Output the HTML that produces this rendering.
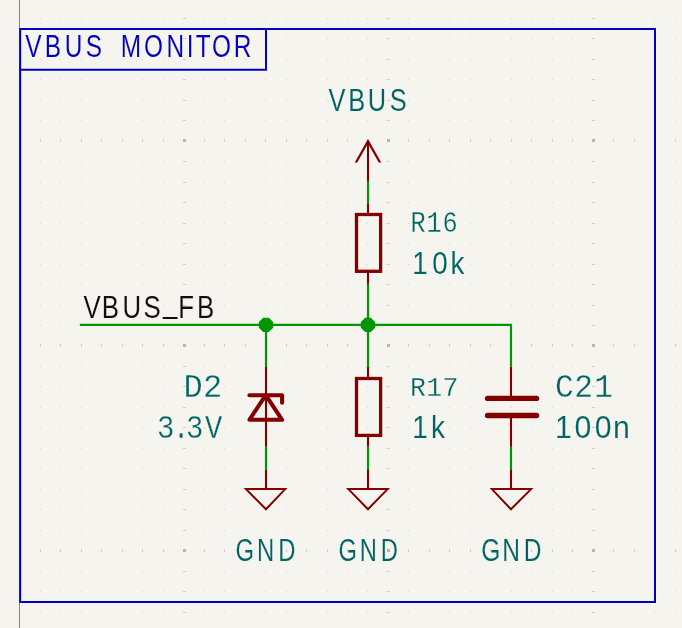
<!DOCTYPE html>
<html lang="en"><head><meta charset="utf-8"><title>VBUS MONITOR</title>
<style>
html,body{margin:0;padding:0;background:#F5F4EF;}
body{width:682px;height:628px;overflow:hidden;}
svg{display:block;will-change:transform;}
text{font-family:"Liberation Sans",sans-serif;white-space:pre;stroke:#F5F4EF;stroke-width:0.1px;}
text.m{font-family:"Liberation Mono",monospace;stroke-width:0.3px;}
</style></head>
<body>
<svg width="682" height="628" viewBox="0 0 682 628">
<rect width="682" height="628" fill="#F5F4EF"/>
<path fill="#D3D3D0" shape-rendering="crispEdges" d="M19 18h1v1h-1zM19 38h1v1h-1zM19 59h1v1h-1zM19 79h1v1h-1zM19 100h1v1h-1zM19 120h1v1h-1zM19 161h1v1h-1zM19 182h1v1h-1zM19 202h1v1h-1zM19 223h1v1h-1zM19 243h1v1h-1zM19 264h1v1h-1zM19 284h1v1h-1zM19 305h1v1h-1zM19 325h1v1h-1zM19 366h1v1h-1zM19 386h1v1h-1zM19 407h1v1h-1zM19 427h1v1h-1zM19 448h1v1h-1zM19 468h1v1h-1zM19 489h1v1h-1zM19 509h1v1h-1zM19 530h1v1h-1zM19 571h1v1h-1zM19 591h1v1h-1zM19 612h1v1h-1zM40 18h1v1h-1zM40 38h1v1h-1zM40 59h1v1h-1zM40 79h1v1h-1zM40 100h1v1h-1zM40 120h1v1h-1zM40 161h1v1h-1zM40 182h1v1h-1zM40 202h1v1h-1zM40 223h1v1h-1zM40 243h1v1h-1zM40 264h1v1h-1zM40 284h1v1h-1zM40 305h1v1h-1zM40 325h1v1h-1zM40 366h1v1h-1zM40 386h1v1h-1zM40 407h1v1h-1zM40 427h1v1h-1zM40 448h1v1h-1zM40 468h1v1h-1zM40 489h1v1h-1zM40 509h1v1h-1zM40 530h1v1h-1zM40 571h1v1h-1zM40 591h1v1h-1zM40 612h1v1h-1zM60 18h1v1h-1zM60 38h1v1h-1zM60 59h1v1h-1zM60 79h1v1h-1zM60 100h1v1h-1zM60 120h1v1h-1zM60 161h1v1h-1zM60 182h1v1h-1zM60 202h1v1h-1zM60 223h1v1h-1zM60 243h1v1h-1zM60 264h1v1h-1zM60 284h1v1h-1zM60 305h1v1h-1zM60 325h1v1h-1zM60 366h1v1h-1zM60 386h1v1h-1zM60 407h1v1h-1zM60 427h1v1h-1zM60 448h1v1h-1zM60 468h1v1h-1zM60 489h1v1h-1zM60 509h1v1h-1zM60 530h1v1h-1zM60 571h1v1h-1zM60 591h1v1h-1zM60 612h1v1h-1zM81 18h1v1h-1zM81 38h1v1h-1zM81 59h1v1h-1zM81 79h1v1h-1zM81 100h1v1h-1zM81 120h1v1h-1zM81 161h1v1h-1zM81 182h1v1h-1zM81 202h1v1h-1zM81 223h1v1h-1zM81 243h1v1h-1zM81 264h1v1h-1zM81 284h1v1h-1zM81 305h1v1h-1zM81 325h1v1h-1zM81 366h1v1h-1zM81 386h1v1h-1zM81 407h1v1h-1zM81 427h1v1h-1zM81 448h1v1h-1zM81 468h1v1h-1zM81 489h1v1h-1zM81 509h1v1h-1zM81 530h1v1h-1zM81 571h1v1h-1zM81 591h1v1h-1zM81 612h1v1h-1zM101 18h1v1h-1zM101 38h1v1h-1zM101 59h1v1h-1zM101 79h1v1h-1zM101 100h1v1h-1zM101 120h1v1h-1zM101 161h1v1h-1zM101 182h1v1h-1zM101 202h1v1h-1zM101 223h1v1h-1zM101 243h1v1h-1zM101 264h1v1h-1zM101 284h1v1h-1zM101 305h1v1h-1zM101 325h1v1h-1zM101 366h1v1h-1zM101 386h1v1h-1zM101 407h1v1h-1zM101 427h1v1h-1zM101 448h1v1h-1zM101 468h1v1h-1zM101 489h1v1h-1zM101 509h1v1h-1zM101 530h1v1h-1zM101 571h1v1h-1zM101 591h1v1h-1zM101 612h1v1h-1zM122 18h1v1h-1zM122 38h1v1h-1zM122 59h1v1h-1zM122 79h1v1h-1zM122 100h1v1h-1zM122 120h1v1h-1zM122 161h1v1h-1zM122 182h1v1h-1zM122 202h1v1h-1zM122 223h1v1h-1zM122 243h1v1h-1zM122 264h1v1h-1zM122 284h1v1h-1zM122 305h1v1h-1zM122 325h1v1h-1zM122 366h1v1h-1zM122 386h1v1h-1zM122 407h1v1h-1zM122 427h1v1h-1zM122 448h1v1h-1zM122 468h1v1h-1zM122 489h1v1h-1zM122 509h1v1h-1zM122 530h1v1h-1zM122 571h1v1h-1zM122 591h1v1h-1zM122 612h1v1h-1zM142 18h1v1h-1zM142 38h1v1h-1zM142 59h1v1h-1zM142 79h1v1h-1zM142 100h1v1h-1zM142 120h1v1h-1zM142 161h1v1h-1zM142 182h1v1h-1zM142 202h1v1h-1zM142 223h1v1h-1zM142 243h1v1h-1zM142 264h1v1h-1zM142 284h1v1h-1zM142 305h1v1h-1zM142 325h1v1h-1zM142 366h1v1h-1zM142 386h1v1h-1zM142 407h1v1h-1zM142 427h1v1h-1zM142 448h1v1h-1zM142 468h1v1h-1zM142 489h1v1h-1zM142 509h1v1h-1zM142 530h1v1h-1zM142 571h1v1h-1zM142 591h1v1h-1zM142 612h1v1h-1zM163 18h1v1h-1zM163 38h1v1h-1zM163 59h1v1h-1zM163 79h1v1h-1zM163 100h1v1h-1zM163 120h1v1h-1zM163 161h1v1h-1zM163 182h1v1h-1zM163 202h1v1h-1zM163 223h1v1h-1zM163 243h1v1h-1zM163 264h1v1h-1zM163 284h1v1h-1zM163 305h1v1h-1zM163 325h1v1h-1zM163 366h1v1h-1zM163 386h1v1h-1zM163 407h1v1h-1zM163 427h1v1h-1zM163 448h1v1h-1zM163 468h1v1h-1zM163 489h1v1h-1zM163 509h1v1h-1zM163 530h1v1h-1zM163 571h1v1h-1zM163 591h1v1h-1zM163 612h1v1h-1zM204 18h1v1h-1zM204 38h1v1h-1zM204 59h1v1h-1zM204 79h1v1h-1zM204 100h1v1h-1zM204 120h1v1h-1zM204 161h1v1h-1zM204 182h1v1h-1zM204 202h1v1h-1zM204 223h1v1h-1zM204 243h1v1h-1zM204 264h1v1h-1zM204 284h1v1h-1zM204 305h1v1h-1zM204 325h1v1h-1zM204 366h1v1h-1zM204 386h1v1h-1zM204 407h1v1h-1zM204 427h1v1h-1zM204 448h1v1h-1zM204 468h1v1h-1zM204 489h1v1h-1zM204 509h1v1h-1zM204 530h1v1h-1zM204 571h1v1h-1zM204 591h1v1h-1zM204 612h1v1h-1zM224 18h1v1h-1zM224 38h1v1h-1zM224 59h1v1h-1zM224 79h1v1h-1zM224 100h1v1h-1zM224 120h1v1h-1zM224 161h1v1h-1zM224 182h1v1h-1zM224 202h1v1h-1zM224 223h1v1h-1zM224 243h1v1h-1zM224 264h1v1h-1zM224 284h1v1h-1zM224 305h1v1h-1zM224 325h1v1h-1zM224 366h1v1h-1zM224 386h1v1h-1zM224 407h1v1h-1zM224 427h1v1h-1zM224 448h1v1h-1zM224 468h1v1h-1zM224 489h1v1h-1zM224 509h1v1h-1zM224 530h1v1h-1zM224 571h1v1h-1zM224 591h1v1h-1zM224 612h1v1h-1zM245 18h1v1h-1zM245 38h1v1h-1zM245 59h1v1h-1zM245 79h1v1h-1zM245 100h1v1h-1zM245 120h1v1h-1zM245 161h1v1h-1zM245 182h1v1h-1zM245 202h1v1h-1zM245 223h1v1h-1zM245 243h1v1h-1zM245 264h1v1h-1zM245 284h1v1h-1zM245 305h1v1h-1zM245 325h1v1h-1zM245 366h1v1h-1zM245 386h1v1h-1zM245 407h1v1h-1zM245 427h1v1h-1zM245 448h1v1h-1zM245 468h1v1h-1zM245 489h1v1h-1zM245 509h1v1h-1zM245 530h1v1h-1zM245 571h1v1h-1zM245 591h1v1h-1zM245 612h1v1h-1zM265 18h1v1h-1zM265 38h1v1h-1zM265 59h1v1h-1zM265 79h1v1h-1zM265 100h1v1h-1zM265 120h1v1h-1zM265 161h1v1h-1zM265 182h1v1h-1zM265 202h1v1h-1zM265 223h1v1h-1zM265 243h1v1h-1zM265 264h1v1h-1zM265 284h1v1h-1zM265 305h1v1h-1zM265 325h1v1h-1zM265 366h1v1h-1zM265 386h1v1h-1zM265 407h1v1h-1zM265 427h1v1h-1zM265 448h1v1h-1zM265 468h1v1h-1zM265 489h1v1h-1zM265 509h1v1h-1zM265 530h1v1h-1zM265 571h1v1h-1zM265 591h1v1h-1zM265 612h1v1h-1zM286 18h1v1h-1zM286 38h1v1h-1zM286 59h1v1h-1zM286 79h1v1h-1zM286 100h1v1h-1zM286 120h1v1h-1zM286 161h1v1h-1zM286 182h1v1h-1zM286 202h1v1h-1zM286 223h1v1h-1zM286 243h1v1h-1zM286 264h1v1h-1zM286 284h1v1h-1zM286 305h1v1h-1zM286 325h1v1h-1zM286 366h1v1h-1zM286 386h1v1h-1zM286 407h1v1h-1zM286 427h1v1h-1zM286 448h1v1h-1zM286 468h1v1h-1zM286 489h1v1h-1zM286 509h1v1h-1zM286 530h1v1h-1zM286 571h1v1h-1zM286 591h1v1h-1zM286 612h1v1h-1zM306 18h1v1h-1zM306 38h1v1h-1zM306 59h1v1h-1zM306 79h1v1h-1zM306 100h1v1h-1zM306 120h1v1h-1zM306 161h1v1h-1zM306 182h1v1h-1zM306 202h1v1h-1zM306 223h1v1h-1zM306 243h1v1h-1zM306 264h1v1h-1zM306 284h1v1h-1zM306 305h1v1h-1zM306 325h1v1h-1zM306 366h1v1h-1zM306 386h1v1h-1zM306 407h1v1h-1zM306 427h1v1h-1zM306 448h1v1h-1zM306 468h1v1h-1zM306 489h1v1h-1zM306 509h1v1h-1zM306 530h1v1h-1zM306 571h1v1h-1zM306 591h1v1h-1zM306 612h1v1h-1zM327 18h1v1h-1zM327 38h1v1h-1zM327 59h1v1h-1zM327 79h1v1h-1zM327 100h1v1h-1zM327 120h1v1h-1zM327 161h1v1h-1zM327 182h1v1h-1zM327 202h1v1h-1zM327 223h1v1h-1zM327 243h1v1h-1zM327 264h1v1h-1zM327 284h1v1h-1zM327 305h1v1h-1zM327 325h1v1h-1zM327 366h1v1h-1zM327 386h1v1h-1zM327 407h1v1h-1zM327 427h1v1h-1zM327 448h1v1h-1zM327 468h1v1h-1zM327 489h1v1h-1zM327 509h1v1h-1zM327 530h1v1h-1zM327 571h1v1h-1zM327 591h1v1h-1zM327 612h1v1h-1zM347 18h1v1h-1zM347 38h1v1h-1zM347 59h1v1h-1zM347 79h1v1h-1zM347 100h1v1h-1zM347 120h1v1h-1zM347 161h1v1h-1zM347 182h1v1h-1zM347 202h1v1h-1zM347 223h1v1h-1zM347 243h1v1h-1zM347 264h1v1h-1zM347 284h1v1h-1zM347 305h1v1h-1zM347 325h1v1h-1zM347 366h1v1h-1zM347 386h1v1h-1zM347 407h1v1h-1zM347 427h1v1h-1zM347 448h1v1h-1zM347 468h1v1h-1zM347 489h1v1h-1zM347 509h1v1h-1zM347 530h1v1h-1zM347 571h1v1h-1zM347 591h1v1h-1zM347 612h1v1h-1zM367 18h1v1h-1zM367 38h1v1h-1zM367 59h1v1h-1zM367 79h1v1h-1zM367 100h1v1h-1zM367 120h1v1h-1zM367 161h1v1h-1zM367 182h1v1h-1zM367 202h1v1h-1zM367 223h1v1h-1zM367 243h1v1h-1zM367 264h1v1h-1zM367 284h1v1h-1zM367 305h1v1h-1zM367 325h1v1h-1zM367 366h1v1h-1zM367 386h1v1h-1zM367 407h1v1h-1zM367 427h1v1h-1zM367 448h1v1h-1zM367 468h1v1h-1zM367 489h1v1h-1zM367 509h1v1h-1zM367 530h1v1h-1zM367 571h1v1h-1zM367 591h1v1h-1zM367 612h1v1h-1zM408 18h1v1h-1zM408 38h1v1h-1zM408 59h1v1h-1zM408 79h1v1h-1zM408 100h1v1h-1zM408 120h1v1h-1zM408 161h1v1h-1zM408 182h1v1h-1zM408 202h1v1h-1zM408 223h1v1h-1zM408 243h1v1h-1zM408 264h1v1h-1zM408 284h1v1h-1zM408 305h1v1h-1zM408 325h1v1h-1zM408 366h1v1h-1zM408 386h1v1h-1zM408 407h1v1h-1zM408 427h1v1h-1zM408 448h1v1h-1zM408 468h1v1h-1zM408 489h1v1h-1zM408 509h1v1h-1zM408 530h1v1h-1zM408 571h1v1h-1zM408 591h1v1h-1zM408 612h1v1h-1zM429 18h1v1h-1zM429 38h1v1h-1zM429 59h1v1h-1zM429 79h1v1h-1zM429 100h1v1h-1zM429 120h1v1h-1zM429 161h1v1h-1zM429 182h1v1h-1zM429 202h1v1h-1zM429 223h1v1h-1zM429 243h1v1h-1zM429 264h1v1h-1zM429 284h1v1h-1zM429 305h1v1h-1zM429 325h1v1h-1zM429 366h1v1h-1zM429 386h1v1h-1zM429 407h1v1h-1zM429 427h1v1h-1zM429 448h1v1h-1zM429 468h1v1h-1zM429 489h1v1h-1zM429 509h1v1h-1zM429 530h1v1h-1zM429 571h1v1h-1zM429 591h1v1h-1zM429 612h1v1h-1zM449 18h1v1h-1zM449 38h1v1h-1zM449 59h1v1h-1zM449 79h1v1h-1zM449 100h1v1h-1zM449 120h1v1h-1zM449 161h1v1h-1zM449 182h1v1h-1zM449 202h1v1h-1zM449 223h1v1h-1zM449 243h1v1h-1zM449 264h1v1h-1zM449 284h1v1h-1zM449 305h1v1h-1zM449 325h1v1h-1zM449 366h1v1h-1zM449 386h1v1h-1zM449 407h1v1h-1zM449 427h1v1h-1zM449 448h1v1h-1zM449 468h1v1h-1zM449 489h1v1h-1zM449 509h1v1h-1zM449 530h1v1h-1zM449 571h1v1h-1zM449 591h1v1h-1zM449 612h1v1h-1zM470 18h1v1h-1zM470 38h1v1h-1zM470 59h1v1h-1zM470 79h1v1h-1zM470 100h1v1h-1zM470 120h1v1h-1zM470 161h1v1h-1zM470 182h1v1h-1zM470 202h1v1h-1zM470 223h1v1h-1zM470 243h1v1h-1zM470 264h1v1h-1zM470 284h1v1h-1zM470 305h1v1h-1zM470 325h1v1h-1zM470 366h1v1h-1zM470 386h1v1h-1zM470 407h1v1h-1zM470 427h1v1h-1zM470 448h1v1h-1zM470 468h1v1h-1zM470 489h1v1h-1zM470 509h1v1h-1zM470 530h1v1h-1zM470 571h1v1h-1zM470 591h1v1h-1zM470 612h1v1h-1zM490 18h1v1h-1zM490 38h1v1h-1zM490 59h1v1h-1zM490 79h1v1h-1zM490 100h1v1h-1zM490 120h1v1h-1zM490 161h1v1h-1zM490 182h1v1h-1zM490 202h1v1h-1zM490 223h1v1h-1zM490 243h1v1h-1zM490 264h1v1h-1zM490 284h1v1h-1zM490 305h1v1h-1zM490 325h1v1h-1zM490 366h1v1h-1zM490 386h1v1h-1zM490 407h1v1h-1zM490 427h1v1h-1zM490 448h1v1h-1zM490 468h1v1h-1zM490 489h1v1h-1zM490 509h1v1h-1zM490 530h1v1h-1zM490 571h1v1h-1zM490 591h1v1h-1zM490 612h1v1h-1zM511 18h1v1h-1zM511 38h1v1h-1zM511 59h1v1h-1zM511 79h1v1h-1zM511 100h1v1h-1zM511 120h1v1h-1zM511 161h1v1h-1zM511 182h1v1h-1zM511 202h1v1h-1zM511 223h1v1h-1zM511 243h1v1h-1zM511 264h1v1h-1zM511 284h1v1h-1zM511 305h1v1h-1zM511 325h1v1h-1zM511 366h1v1h-1zM511 386h1v1h-1zM511 407h1v1h-1zM511 427h1v1h-1zM511 448h1v1h-1zM511 468h1v1h-1zM511 489h1v1h-1zM511 509h1v1h-1zM511 530h1v1h-1zM511 571h1v1h-1zM511 591h1v1h-1zM511 612h1v1h-1zM531 18h1v1h-1zM531 38h1v1h-1zM531 59h1v1h-1zM531 79h1v1h-1zM531 100h1v1h-1zM531 120h1v1h-1zM531 161h1v1h-1zM531 182h1v1h-1zM531 202h1v1h-1zM531 223h1v1h-1zM531 243h1v1h-1zM531 264h1v1h-1zM531 284h1v1h-1zM531 305h1v1h-1zM531 325h1v1h-1zM531 366h1v1h-1zM531 386h1v1h-1zM531 407h1v1h-1zM531 427h1v1h-1zM531 448h1v1h-1zM531 468h1v1h-1zM531 489h1v1h-1zM531 509h1v1h-1zM531 530h1v1h-1zM531 571h1v1h-1zM531 591h1v1h-1zM531 612h1v1h-1zM552 18h1v1h-1zM552 38h1v1h-1zM552 59h1v1h-1zM552 79h1v1h-1zM552 100h1v1h-1zM552 120h1v1h-1zM552 161h1v1h-1zM552 182h1v1h-1zM552 202h1v1h-1zM552 223h1v1h-1zM552 243h1v1h-1zM552 264h1v1h-1zM552 284h1v1h-1zM552 305h1v1h-1zM552 325h1v1h-1zM552 366h1v1h-1zM552 386h1v1h-1zM552 407h1v1h-1zM552 427h1v1h-1zM552 448h1v1h-1zM552 468h1v1h-1zM552 489h1v1h-1zM552 509h1v1h-1zM552 530h1v1h-1zM552 571h1v1h-1zM552 591h1v1h-1zM552 612h1v1h-1zM572 18h1v1h-1zM572 38h1v1h-1zM572 59h1v1h-1zM572 79h1v1h-1zM572 100h1v1h-1zM572 120h1v1h-1zM572 161h1v1h-1zM572 182h1v1h-1zM572 202h1v1h-1zM572 223h1v1h-1zM572 243h1v1h-1zM572 264h1v1h-1zM572 284h1v1h-1zM572 305h1v1h-1zM572 325h1v1h-1zM572 366h1v1h-1zM572 386h1v1h-1zM572 407h1v1h-1zM572 427h1v1h-1zM572 448h1v1h-1zM572 468h1v1h-1zM572 489h1v1h-1zM572 509h1v1h-1zM572 530h1v1h-1zM572 571h1v1h-1zM572 591h1v1h-1zM572 612h1v1h-1zM613 18h1v1h-1zM613 38h1v1h-1zM613 59h1v1h-1zM613 79h1v1h-1zM613 100h1v1h-1zM613 120h1v1h-1zM613 161h1v1h-1zM613 182h1v1h-1zM613 202h1v1h-1zM613 223h1v1h-1zM613 243h1v1h-1zM613 264h1v1h-1zM613 284h1v1h-1zM613 305h1v1h-1zM613 325h1v1h-1zM613 366h1v1h-1zM613 386h1v1h-1zM613 407h1v1h-1zM613 427h1v1h-1zM613 448h1v1h-1zM613 468h1v1h-1zM613 489h1v1h-1zM613 509h1v1h-1zM613 530h1v1h-1zM613 571h1v1h-1zM613 591h1v1h-1zM613 612h1v1h-1zM634 18h1v1h-1zM634 38h1v1h-1zM634 59h1v1h-1zM634 79h1v1h-1zM634 100h1v1h-1zM634 120h1v1h-1zM634 161h1v1h-1zM634 182h1v1h-1zM634 202h1v1h-1zM634 223h1v1h-1zM634 243h1v1h-1zM634 264h1v1h-1zM634 284h1v1h-1zM634 305h1v1h-1zM634 325h1v1h-1zM634 366h1v1h-1zM634 386h1v1h-1zM634 407h1v1h-1zM634 427h1v1h-1zM634 448h1v1h-1zM634 468h1v1h-1zM634 489h1v1h-1zM634 509h1v1h-1zM634 530h1v1h-1zM634 571h1v1h-1zM634 591h1v1h-1zM634 612h1v1h-1zM654 18h1v1h-1zM654 38h1v1h-1zM654 59h1v1h-1zM654 79h1v1h-1zM654 100h1v1h-1zM654 120h1v1h-1zM654 161h1v1h-1zM654 182h1v1h-1zM654 202h1v1h-1zM654 223h1v1h-1zM654 243h1v1h-1zM654 264h1v1h-1zM654 284h1v1h-1zM654 305h1v1h-1zM654 325h1v1h-1zM654 366h1v1h-1zM654 386h1v1h-1zM654 407h1v1h-1zM654 427h1v1h-1zM654 448h1v1h-1zM654 468h1v1h-1zM654 489h1v1h-1zM654 509h1v1h-1zM654 530h1v1h-1zM654 571h1v1h-1zM654 591h1v1h-1zM654 612h1v1h-1zM675 18h1v1h-1zM675 38h1v1h-1zM675 59h1v1h-1zM675 79h1v1h-1zM675 100h1v1h-1zM675 120h1v1h-1zM675 161h1v1h-1zM675 182h1v1h-1zM675 202h1v1h-1zM675 223h1v1h-1zM675 243h1v1h-1zM675 264h1v1h-1zM675 284h1v1h-1zM675 305h1v1h-1zM675 325h1v1h-1zM675 366h1v1h-1zM675 386h1v1h-1zM675 407h1v1h-1zM675 427h1v1h-1zM675 448h1v1h-1zM675 468h1v1h-1zM675 489h1v1h-1zM675 509h1v1h-1zM675 530h1v1h-1zM675 571h1v1h-1zM675 591h1v1h-1zM675 612h1v1h-1z"/>
<path fill="#CDCDCA" shape-rendering="crispEdges" d="M19 139h1v3h-1zM19 344h1v3h-1zM19 549h1v3h-1zM40 139h1v3h-1zM40 344h1v3h-1zM40 549h1v3h-1zM60 139h1v3h-1zM60 344h1v3h-1zM60 549h1v3h-1zM81 139h1v3h-1zM81 344h1v3h-1zM81 549h1v3h-1zM101 139h1v3h-1zM101 344h1v3h-1zM101 549h1v3h-1zM122 139h1v3h-1zM122 344h1v3h-1zM122 549h1v3h-1zM142 139h1v3h-1zM142 344h1v3h-1zM142 549h1v3h-1zM163 139h1v3h-1zM163 344h1v3h-1zM163 549h1v3h-1zM183 18h3v1h-3zM183 38h3v1h-3zM183 59h3v1h-3zM183 79h3v1h-3zM183 100h3v1h-3zM183 120h3v1h-3zM183 161h3v1h-3zM183 182h3v1h-3zM183 202h3v1h-3zM183 223h3v1h-3zM183 243h3v1h-3zM183 264h3v1h-3zM183 284h3v1h-3zM183 305h3v1h-3zM183 325h3v1h-3zM183 366h3v1h-3zM183 386h3v1h-3zM183 407h3v1h-3zM183 427h3v1h-3zM183 448h3v1h-3zM183 468h3v1h-3zM183 489h3v1h-3zM183 509h3v1h-3zM183 530h3v1h-3zM183 571h3v1h-3zM183 591h3v1h-3zM183 612h3v1h-3zM204 139h1v3h-1zM204 344h1v3h-1zM204 549h1v3h-1zM224 139h1v3h-1zM224 344h1v3h-1zM224 549h1v3h-1zM245 139h1v3h-1zM245 344h1v3h-1zM245 549h1v3h-1zM265 139h1v3h-1zM265 344h1v3h-1zM265 549h1v3h-1zM286 139h1v3h-1zM286 344h1v3h-1zM286 549h1v3h-1zM306 139h1v3h-1zM306 344h1v3h-1zM306 549h1v3h-1zM327 139h1v3h-1zM327 344h1v3h-1zM327 549h1v3h-1zM347 139h1v3h-1zM347 344h1v3h-1zM347 549h1v3h-1zM367 139h1v3h-1zM367 344h1v3h-1zM367 549h1v3h-1zM387 18h3v1h-3zM387 38h3v1h-3zM387 59h3v1h-3zM387 79h3v1h-3zM387 100h3v1h-3zM387 120h3v1h-3zM387 161h3v1h-3zM387 182h3v1h-3zM387 202h3v1h-3zM387 223h3v1h-3zM387 243h3v1h-3zM387 264h3v1h-3zM387 284h3v1h-3zM387 305h3v1h-3zM387 325h3v1h-3zM387 366h3v1h-3zM387 386h3v1h-3zM387 407h3v1h-3zM387 427h3v1h-3zM387 448h3v1h-3zM387 468h3v1h-3zM387 489h3v1h-3zM387 509h3v1h-3zM387 530h3v1h-3zM387 571h3v1h-3zM387 591h3v1h-3zM387 612h3v1h-3zM408 139h1v3h-1zM408 344h1v3h-1zM408 549h1v3h-1zM429 139h1v3h-1zM429 344h1v3h-1zM429 549h1v3h-1zM449 139h1v3h-1zM449 344h1v3h-1zM449 549h1v3h-1zM470 139h1v3h-1zM470 344h1v3h-1zM470 549h1v3h-1zM490 139h1v3h-1zM490 344h1v3h-1zM490 549h1v3h-1zM511 139h1v3h-1zM511 344h1v3h-1zM511 549h1v3h-1zM531 139h1v3h-1zM531 344h1v3h-1zM531 549h1v3h-1zM552 139h1v3h-1zM552 344h1v3h-1zM552 549h1v3h-1zM572 139h1v3h-1zM572 344h1v3h-1zM572 549h1v3h-1zM592 18h3v1h-3zM592 38h3v1h-3zM592 59h3v1h-3zM592 79h3v1h-3zM592 100h3v1h-3zM592 120h3v1h-3zM592 161h3v1h-3zM592 182h3v1h-3zM592 202h3v1h-3zM592 223h3v1h-3zM592 243h3v1h-3zM592 264h3v1h-3zM592 284h3v1h-3zM592 305h3v1h-3zM592 325h3v1h-3zM592 366h3v1h-3zM592 386h3v1h-3zM592 407h3v1h-3zM592 427h3v1h-3zM592 448h3v1h-3zM592 468h3v1h-3zM592 489h3v1h-3zM592 509h3v1h-3zM592 530h3v1h-3zM592 571h3v1h-3zM592 591h3v1h-3zM592 612h3v1h-3zM613 139h1v3h-1zM613 344h1v3h-1zM613 549h1v3h-1zM634 139h1v3h-1zM634 344h1v3h-1zM634 549h1v3h-1zM654 139h1v3h-1zM654 344h1v3h-1zM654 549h1v3h-1zM675 139h1v3h-1zM675 344h1v3h-1zM675 549h1v3h-1z"/>
<path fill="#B4B4B2" shape-rendering="crispEdges" d="M183 139h3v3h-3zM183 344h3v3h-3zM183 549h3v3h-3zM387 139h3v3h-3zM387 344h3v3h-3zM387 549h3v3h-3zM592 139h3v3h-3zM592 344h3v3h-3zM592 549h3v3h-3z"/>
<rect x="19" y="0" width="1" height="628" fill="#838383" shape-rendering="crispEdges"/>
<path d="M20.15 28.95H655V602H20.15Z M20.15 69.8H266V28.95" fill="none" stroke="#0000C2" stroke-width="2.0" stroke-linejoin="miter"/>
<text transform="translate(0 56.90) scale(0.7631 1)" font-size="31.98" fill="#0000C2" x="33.24 58.52 84.84 112.46 134.85 158.16 188.80 218.04 244.68 256.40 277.72 306.20" y="0">VBUS MONITOR</text>
<text transform="translate(0 110.80) scale(0.7946 1)" font-size="31.98" fill="#006464" x="413.47 438.18 462.93 490.44" y="0">VBUS</text>
<text transform="translate(0 318.30) scale(0.8072 1)" font-size="31.98" fill="#0F0F0F" x="103.37 126.13 151.79 177.64 201.89 220.97 244.19" y="0.00 0.00 0.00 0.00 -4.94 0.00 0.00">VBUS_FB</text>
<text class="m" transform="translate(0 397.10) scale(0.9607 1)" font-size="33.38" fill="#006464" x="191.14 211.40" y="0">D2</text>
<text class="m" transform="translate(0 437.90) scale(0.8666 1)" font-size="33.38" fill="#006464" x="181.08 198.97 214.60 236.69" y="0">3.3V</text>
<text class="m" transform="translate(0 232.10) scale(0.8673 1)" font-size="29.14" fill="#006464" x="473.23 491.82 510.09" y="0">R16</text>
<text transform="translate(0 274.30) scale(0.8684 1)" font-size="31.98" fill="#006464" x="474.67 497.74 518.78" y="0">10k</text>
<text class="m" transform="translate(0 395.70) scale(0.9282 1)" font-size="28.53" fill="#006464" x="441.75 459.15 476.74" y="0">R17</text>
<text transform="translate(0 438.00) scale(0.8747 1)" font-size="31.98" fill="#006464" x="471.19 492.81" y="0">1k</text>
<text class="m" transform="translate(0 397.10) scale(0.9355 1)" font-size="33.38" fill="#006464" x="593.31 613.84 635.24" y="0">C21</text>
<text transform="translate(0 437.90) scale(0.9458 1)" font-size="31.98" fill="#006464" x="586.75 607.43 628.74 648.22" y="0">100n</text>
<text transform="translate(0 560.90) scale(0.7455 1)" font-size="31.98" fill="#006464" x="316.04 344.70 373.13" y="0">GND</text>
<text transform="translate(0 560.90) scale(0.7421 1)" font-size="31.98" fill="#006464" x="456.04 484.63 513.13" y="0">GND</text>
<text transform="translate(0 560.90) scale(0.7681 1)" font-size="31.98" fill="#006464" x="626.63 654.01 681.98" y="0">GND</text>
<path d="M368.0 140.6L368.0 181" stroke="#840000" stroke-width="2.1" stroke-linecap="butt" fill="none"/>
<path d="M354.72 162.6L368.0 139.05L381.28 162.6H378.7L368.0 143.6L357.3 162.6Z" fill="#840000"/>
<path d="M368.0 203.5L368.0 214" stroke="#840000" stroke-width="2.1" stroke-linecap="butt" fill="none"/>
<path d="M368.0 272L368.0 283.9" stroke="#840000" stroke-width="2.1" stroke-linecap="butt" fill="none"/>
<rect x="356.5" y="214.5" width="24.1" height="56.8" fill="none" stroke="#840000" stroke-width="3.3"/>
<path d="M368.0 366.9L368.0 378" stroke="#840000" stroke-width="2.1" stroke-linecap="butt" fill="none"/>
<path d="M368.0 436L368.0 446.8" stroke="#840000" stroke-width="2.1" stroke-linecap="butt" fill="none"/>
<rect x="356.5" y="378.5" width="24.1" height="56.9" fill="none" stroke="#840000" stroke-width="3.3"/>
<path d="M266.0 367L266.0 446.8" stroke="#840000" stroke-width="2.1" stroke-linecap="butt" fill="none"/>
<path d="M249.4 395.2H282.1V402.7" fill="none" stroke="#840000" stroke-width="4.1" stroke-linecap="round" stroke-linejoin="round"/>
<path d="M265.75 395.2L282.1 419.8H249.4Z" fill="none" stroke="#840000" stroke-width="4.1" stroke-linecap="round" stroke-linejoin="round"/>
<path d="M511.0 366.7L511.0 398" stroke="#840000" stroke-width="2.1" stroke-linecap="butt" fill="none"/>
<path d="M511.0 415.5L511.0 446.8" stroke="#840000" stroke-width="2.1" stroke-linecap="butt" fill="none"/>
<path d="M487.6 398.4H536.5M487.6 415.5H536.5" fill="none" stroke="#840000" stroke-width="5.4" stroke-linecap="round"/>
<path d="M266.0 470L266.0 489.1" stroke="#840000" stroke-width="2.1" stroke-linecap="butt" fill="none"/>
<path d="M246.00000000000003 489.1H285.20000000000005L265.95 509.3Z" fill="none" stroke="#840000" stroke-width="2.0" stroke-linejoin="miter"/>
<path d="M368.0 470L368.0 489.1" stroke="#840000" stroke-width="2.1" stroke-linecap="butt" fill="none"/>
<path d="M348.4 489.1H387.6L367.95 509.3Z" fill="none" stroke="#840000" stroke-width="2.0" stroke-linejoin="miter"/>
<path d="M511.0 470L511.0 489.1" stroke="#840000" stroke-width="2.1" stroke-linecap="butt" fill="none"/>
<path d="M491.9 489.1H531.1L510.95 509.3Z" fill="none" stroke="#840000" stroke-width="2.0" stroke-linejoin="miter"/>
<path d="M79.8 324.9H511.0V366.7" fill="none" stroke="#009600" stroke-width="2.15" stroke-linejoin="miter"/>
<path d="M266.0 324.9L266.0 367" stroke="#009600" stroke-width="2.15" stroke-linecap="butt" fill="none"/>
<path d="M368.0 180.8L368.0 204" stroke="#009600" stroke-width="2.15" stroke-linecap="butt" fill="none"/>
<path d="M368.0 284L368.0 366.9" stroke="#009600" stroke-width="2.15" stroke-linecap="butt" fill="none"/>
<path d="M266.0 446.9L266.0 470" stroke="#009600" stroke-width="2.15" stroke-linecap="butt" fill="none"/>
<path d="M368.0 446.9L368.0 470" stroke="#009600" stroke-width="2.15" stroke-linecap="butt" fill="none"/>
<path d="M511.0 446.9L511.0 470" stroke="#009600" stroke-width="2.15" stroke-linecap="butt" fill="none"/>
<polygon points="263.10,317.75 268.90,317.75 273.15,322.00 273.15,327.80 268.90,332.05 263.10,332.05 258.85,327.80 258.85,322.00" fill="#009600"/>
<polygon points="365.10,317.75 370.90,317.75 375.15,322.00 375.15,327.80 370.90,332.05 365.10,332.05 360.85,327.80 360.85,322.00" fill="#009600"/>
</svg>
</body></html>
